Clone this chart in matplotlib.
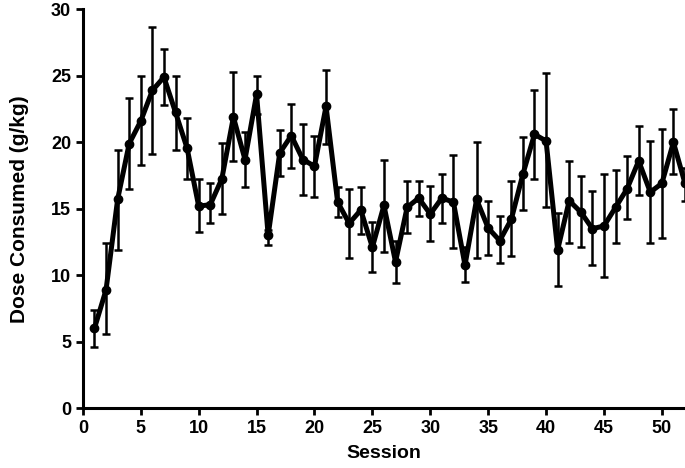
import matplotlib
matplotlib.use('Agg')
import matplotlib.pyplot as plt

plt.rcParams['font.family'] = ['Liberation Sans', 'DejaVu Sans']

sessions = list(range(1, 53))
dose_mean = [6.0, 8.9, 15.7, 19.9, 21.6, 23.9, 24.9, 22.25, 19.55, 15.2,
             15.3, 17.25, 21.9, 18.7, 23.6, 13.0, 19.2, 20.5, 18.7, 18.2,
             22.7, 15.5, 13.9, 14.9, 12.1, 15.25, 11.0, 15.1, 15.8, 14.6,
             15.8, 15.5, 10.75, 15.7, 13.55, 12.6, 14.2, 17.6, 20.6, 20.1,
             11.9, 15.6, 14.75, 13.5, 13.7, 15.1, 16.5, 18.6, 16.25, 16.9,
             20.0, 16.9]
err_upper = [7.4, 12.4, 19.45, 23.3, 25.0, 28.7, 27.05, 25.0, 21.8, 17.2,
             16.9, 19.95, 25.25, 20.8, 25.0, 13.4, 20.9, 22.9, 21.4, 20.5,
             25.45, 16.6, 16.45, 16.6, 14.0, 18.7, 12.6, 17.05, 17.1, 16.7,
             17.6, 19.05, 12.1, 20.0, 15.55, 14.45, 17.1, 20.4, 23.9, 25.2,
             14.7, 18.6, 17.5, 16.3, 17.65, 17.9, 19.0, 21.2, 20.1, 21.0,
             22.5, 18.1]
err_lower = [4.6, 5.6, 11.9, 16.45, 18.3, 19.1, 22.8, 19.45, 17.25, 13.25,
             13.9, 14.6, 18.6, 16.6, 22.1, 12.25, 17.5, 18.1, 16.0, 15.9,
             19.9, 14.4, 11.3, 13.1, 10.25, 11.75, 9.4, 13.2, 14.45, 12.6,
             13.9, 12.05, 9.5, 11.3, 11.5, 10.9, 11.45, 14.9, 17.2, 15.1,
             9.2, 12.4, 12.1, 10.8, 9.9, 12.4, 14.2, 16.0, 12.45, 12.8,
             17.6, 15.6]

yerr = [[m - lo for m, lo in zip(dose_mean, err_lower)],
        [hi - m for m, hi in zip(dose_mean, err_upper)]]

fig = plt.figure(figsize=(6.85, 4.68), dpi=100)
ax = fig.add_axes([0.121, 0.128, 0.879, 0.852])

ax.errorbar(sessions, dose_mean, yerr=yerr, color='black', ecolor='black',
            elinewidth=1.8, capsize=3, capthick=1.8, linewidth=3.6,
            marker='o', markersize=6, clip_on=False, zorder=3)

ax.set_xlim(0, 52)
ax.set_ylim(0, 30)
ax.set_xticks(range(0, 51, 5))
ax.set_yticks(range(0, 31, 5))

for side in ['top', 'right']:
    ax.spines[side].set_visible(False)
for side in ['left', 'bottom']:
    ax.spines[side].set_linewidth(2.2)

ax.tick_params(width=2, length=5, labelsize=13)
for lbl in ax.get_xticklabels() + ax.get_yticklabels():
    lbl.set_fontweight('bold')

ax.set_xlabel('Session', fontsize=14, fontweight='bold', labelpad=6)
ax.set_ylabel('Dose Consumed (g/kg)', fontsize=15, fontweight='bold', labelpad=16)

fig.savefig('out.png', dpi=100)
